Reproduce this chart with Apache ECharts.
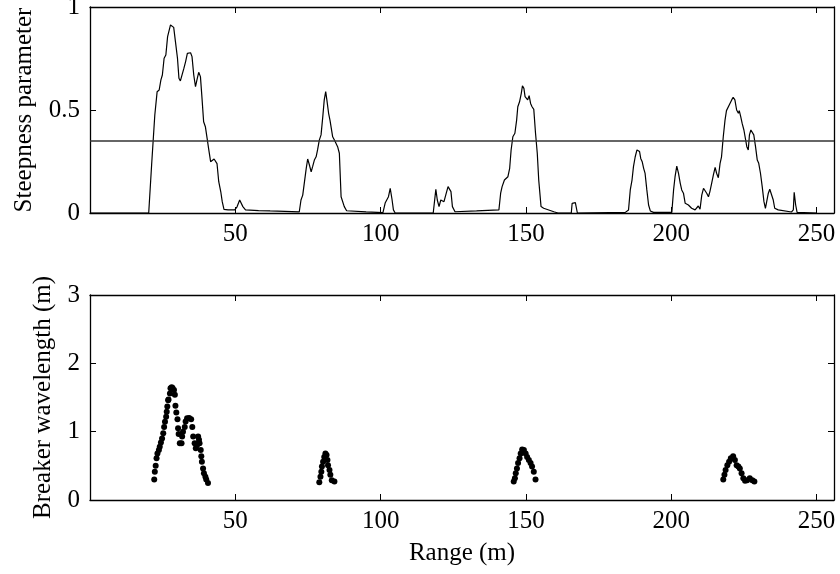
<!DOCTYPE html>
<html>
<head>
<meta charset="utf-8">
<script src="https://cdn.jsdelivr.net/npm/echarts@6/dist/echarts.min.js"></script>
<style>
  html, body { margin: 0; padding: 0; background: #fff; }
  #chart { width: 840px; height: 574px; }
</style>
</head>
<body>
<div id="chart"></div>
<script>
// Steepness parameter along range (m)
var steepRange = [0,20.2,21.2,22.3,23.1,23.8,24.4,24.9,25.5,26.1,26.7,27.1,27.7,28.3,28.8,29.4,30.1,30.6,31.1,31.7,32.3,32.9,33.5,34.1,34.6,35.1,35.7,36.3,36.8,37.4,38.0,38.5,39.1,39.7,40.3,40.8,41.5,42.1,42.7,43.2,43.7,44.3,45.0,45.5,46.1,47.5,49.8,50.6,51.5,52.6,53.5,58,62,67,72,
  72.6,73.2,73.8,74.4,74.9,75.5,76.1,76.6,77.2,77.8,78.3,78.9,79.5,80.1,80.6,81.1,81.5,82.1,82.6,83.2,83.5,84.1,84.7,85.2,85.8,86.4,86.9,87.5,88.3,95,100.8,
  101.2,101.6,102.1,102.7,103.3,103.9,104.4,105,118.1,119.0,119.5,120.1,120.7,121.2,121.8,122.4,123.2,123.8,124.2,124.7,125.6,133,140.7,
  141.3,141.8,142.6,143.2,143.8,144.4,144.9,145.5,146.2,146.8,147.2,147.8,148.4,148.8,149.3,149.7,150.2,150.6,151.1,151.6,152.1,152.7,153.3,153.9,154.4,155.2,156.1,159.6,161,
  165.6,165.9,166.4,167.0,167.4,167.7,184.2,185.3,185.9,186.5,187.0,187.6,188.2,188.6,189.1,189.5,190.0,190.5,191.0,191.6,192.2,192.8,193.9,
  200.2,200.8,201.3,201.9,202.5,203.1,203.6,204.2,204.8,205.3,205.9,206.5,207.0,207.6,208.2,208.8,209.3,209.9,210.5,211.1,211.6,212.2,212.8,213.3,213.9,214.5,215.1,215.6,216.2,216.8,217.3,217.9,218.5,219.0,219.6,220.2,220.8,221.3,221.9,222.5,223.1,223.4,223.9,224.4,225.0,225.5,226.0,226.5,226.9,227.4,227.9,228.4,229.0,229.6,230.1,230.7,231.3,231.9,232.4,232.8,233.4,233.9,234.5,235.1,235.6,236.8,241.4,242,242.3,242.8,243.3,250];
var steepValue = [0,0,0.233,0.476,0.589,0.597,0.646,0.67,0.751,0.767,0.856,0.864,0.913,0.909,0.901,0.832,0.751,0.654,0.641,0.641,0.702,0.735,0.775,0.767,0.778,0.759,0.67,0.613,0.646,0.683,0.662,0.565,0.443,0.419,0.362,0.314,0.249,0.241,0.262,0.265,0.24,0.152,0.103,0.055,0.018,0.015,0.015,0.03,0.063,0.031,0.015,0.012,0.01,0.008,0.005,
  0.063,0.087,0.09,0.217,0.262,0.233,0.2,0.225,0.257,0.273,0.306,0.354,0.379,0.468,0.549,0.589,0.549,0.484,0.448,0.44,0.37,0.354,0.346,0.322,0.29,0.079,0.073,0.031,0.011,0.005,0.002,
  0.005,0.05,0.055,0.079,0.12,0.068,0.015,0,0,0.115,0.063,0.031,0.063,0.071,0.055,0.087,0.128,0.12,0.104,0.031,0.006,0.01,0.015,
  0.096,0.128,0.16,0.152,0.176,0.217,0.306,0.37,0.387,0.451,0.516,0.54,0.581,0.617,0.605,0.565,0.573,0.549,0.57,0.532,0.516,0.503,0.387,0.29,0.16,0.031,0.023,0.006,0,
  0,0.047,0.05,0.05,0.058,0,0.003,0.015,0.112,0.16,0.225,0.273,0.306,0.314,0.298,0.265,0.249,0.217,0.192,0.112,0.039,0.01,0.003,
  0.003,0.112,0.175,0.228,0.192,0.144,0.112,0.096,0.047,0.05,0.039,0.031,0.023,0.031,0.015,0.023,0.034,0.018,0.087,0.12,0.124,0.096,0.079,0.104,0.144,0.185,0.222,0.193,0.171,0.241,0.273,0.37,0.451,0.497,0.49,0.532,0.549,0.562,0.549,0.5,0.484,0.497,0.468,0.435,0.403,0.395,0.322,0.306,0.379,0.403,0.40,0.379,0.322,0.257,0.241,0.193,0.128,0.055,0.023,0.026,0.096,0.115,0.12,0.063,0.023,0.015,0.005,0.015,0.1,0.04,0.003,0];
var steepThreshold = 0.355;

// Breaker wavelength (m) along range (m)
var breakerRange = [22.1,22.3,22.6,22.9,23.2,23.7,24.0,24.4,24.8,25.2,25.5,25.8,26.2,26.4,26.6,26.9,27.0,27.5,27.7,28.1,28.4,28.9,29.2,29.4,29.7,30.1,30.3,30.5,30.9,31.5,31.7,32.0,32.6,32.9,33.4,34.1,34.8,35.2,35.5,36.0,36.4,36.8,37.2,37.5,37.7,38.1,38.3,38.5,38.9,39.2,39.7,40.0,40.6,
  78.9,79.3,79.6,79.8,80.2,80.6,81.0,81.4,81.7,81.9,82.4,82.7,83.2,84.1,
  145.8,146.2,146.5,146.9,147.3,147.8,148.2,148.7,149.3,149.9,150.4,151.0,151.6,152.1,152.7,153.3,
  217.9,218.3,218.7,219.3,219.9,220.5,221.3,221.9,222.5,223.1,223.6,224.2,224.8,225.4,226.1,227.0,227.9,228.6];
var breakerWave = [0.30,0.415,0.50,0.61,0.68,0.73,0.78,0.84,0.90,0.976,1.07,1.146,1.22,1.29,1.37,1.46,1.47,1.56,1.635,1.65,1.64,1.61,1.54,1.38,1.28,1.18,1.05,0.966,0.83,0.83,0.93,1.0,1.07,1.15,1.196,1.2,1.18,1.07,0.93,0.83,0.756,0.80,0.93,0.88,0.83,0.73,0.64,0.56,0.46,0.39,0.34,0.30,0.25,
  0.26,0.34,0.415,0.49,0.56,0.63,0.68,0.66,0.586,0.51,0.44,0.37,0.29,0.27,
  0.27,0.32,0.39,0.46,0.54,0.61,0.68,0.74,0.73,0.68,0.63,0.586,0.54,0.49,0.415,0.30,
  0.30,0.37,0.44,0.51,0.56,0.61,0.64,0.586,0.51,0.49,0.46,0.39,0.32,0.28,0.29,0.32,0.29,0.27];

var xTicks = [50, 100, 150, 200, 250];

function zip(xs, ys) {
  var out = [];
  for (var i = 0; i < xs.length; i++) out.push([xs[i], ys[i]]);
  return out;
}

var FONT = 'Liberation Serif';
var ink = '#000';

// Boxed axes: labelled bottom/left axes plus unlabelled top/right mirrors with inward ticks
function xAxisDef(gridIndex, pos, labels) {
  return {
    type: 'value', gridIndex: gridIndex, position: pos,
    min: 0, max: 256, interval: 50,
    axisLine: { show: true, onZero: false, lineStyle: { color: ink, width: 1.3 } },
    axisTick: { show: true, inside: true, length: 6, lineStyle: { color: ink, width: 1 } },
    axisLabel: {
      show: labels, color: ink, fontFamily: FONT, fontSize: 25, margin: 9,
      showMinLabel: false, showMaxLabel: false,
      formatter: function (v) { return xTicks.indexOf(v) >= 0 ? String(v) : ''; }
    },
    splitLine: { show: false }
  };
}

function yAxisDef(gridIndex, pos, max, interval, labels, name, gap) {
  return {
    type: 'value', gridIndex: gridIndex, position: pos,
    min: 0, max: max, interval: interval,
    name: labels ? name : '', nameLocation: 'middle', nameGap: gap, nameRotate: 90,
    nameTextStyle: { color: ink, fontFamily: FONT, fontSize: 25 },
    axisLine: { show: true, onZero: false, lineStyle: { color: ink, width: 1.3 } },
    axisTick: { show: true, inside: true, length: 6, lineStyle: { color: ink, width: 1 } },
    axisLabel: { show: labels, color: ink, fontFamily: FONT, fontSize: 25, margin: 10 },
    splitLine: { show: false }
  };
}

var chart = echarts.init(document.getElementById('chart'));

var bottomX = xAxisDef(1, 'bottom', true);
bottomX.name = 'Range (m)';
bottomX.nameLocation = 'middle';
bottomX.nameGap = 41;
bottomX.nameTextStyle = { color: ink, fontFamily: FONT, fontSize: 25 };

chart.setOption({
  animation: false,
  backgroundColor: '#fff',
  grid: [
    { left: 90, right: 6, top: 7, height: 206, outerBoundsMode: 'none', containLabel: false },
    { left: 90, right: 6, top: 295, height: 205, outerBoundsMode: 'none', containLabel: false }
  ],
  xAxis: [
    xAxisDef(0, 'bottom', true),
    xAxisDef(0, 'top', false),
    bottomX,
    xAxisDef(1, 'top', false)
  ],
  yAxis: [
    yAxisDef(0, 'left', 1, 0.5, true, 'Steepness parameter', 53),
    yAxisDef(0, 'right', 1, 0.5, false, '', 0),
    yAxisDef(1, 'left', 3, 1, true, 'Breaker wavelength (m)', 34),
    yAxisDef(1, 'right', 3, 1, false, '', 0)
  ],
  series: [
    {
      type: 'line', xAxisIndex: 0, yAxisIndex: 0,
      data: zip(steepRange, steepValue),
      showSymbol: false,
      lineStyle: { color: ink, width: 1.2 },
      markLine: {
        silent: true, symbol: 'none',
        label: { show: false },
        lineStyle: { color: '#333', width: 1.5, type: 'solid' },
        data: [{ yAxis: steepThreshold }]
      }
    },
    {
      type: 'scatter', xAxisIndex: 2, yAxisIndex: 2,
      data: zip(breakerRange, breakerWave),
      symbol: 'circle', symbolSize: 6,
      itemStyle: { color: ink, opacity: 1 }
    }
  ]
});
</script>
</body>
</html>
